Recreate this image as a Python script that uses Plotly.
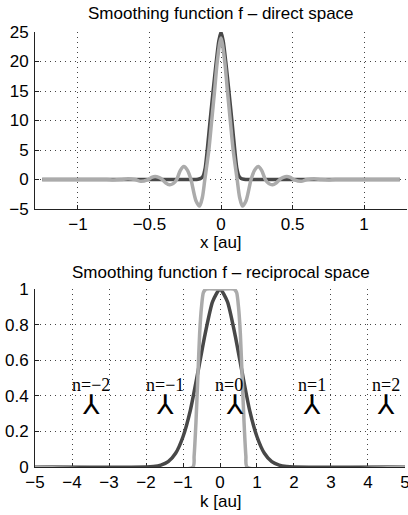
import plotly.graph_objects as go

# direct space, dark curve (smoothing function)
x_dark = [-1.25, -0.3, -0.2, -0.16, -0.14, -0.125, -0.11, -0.096, -0.076, -0.055, -0.033, -0.015, 0,
          0.015, 0.033, 0.055, 0.076, 0.096, 0.11, 0.125, 0.14, 0.16, 0.2, 0.3, 1.25]
y_dark = [0, 0, 0, 0.05, 0.2, 0.6, 2.0, 5, 10, 15, 20, 23.5, 25,
          23.5, 20, 15, 10, 5, 2.0, 0.6, 0.2, 0.05, 0, 0, 0]

# direct space, light curve
x_light = [-1.25, -0.9, -0.8, -0.75, -0.7, -0.65, -0.6, -0.56, -0.51, -0.485, -0.46, -0.435, -0.41,
           -0.385, -0.36, -0.335, -0.31, -0.285, -0.26, -0.235, -0.21, -0.175, -0.15, -0.13, -0.113,
           -0.085, -0.065, -0.045, -0.026, 0,
           0.026, 0.045, 0.065, 0.085, 0.113, 0.13, 0.15, 0.175, 0.21, 0.235, 0.26, 0.285, 0.31,
           0.335, 0.36, 0.385, 0.41, 0.435, 0.46, 0.485, 0.51, 0.56, 0.6, 0.65, 0.7, 0.75, 0.8,
           0.9, 1.25]
y_light = [0, 0, 0, -0.07, 0, 0.15, 0, -0.3, 0, 0.35, 0.5, 0.35, 0,
           -0.6, -0.9, -0.7, 0, 1.5, 2.2, 1.6, 0, -3.6, -4.5, -3.0, 0,
           5, 10, 15, 20, 24,
           20, 15, 10, 5, 0, -3.0, -4.5, -3.6, 0, 1.6, 2.2, 1.5, 0,
           -0.7, -0.9, -0.6, 0, 0.35, 0.5, 0.35, 0, -0.3, 0, 0.15, 0, -0.07, 0,
           0, 0]

# reciprocal space
k_dark = [-5, -2, -1.8, -1.6, -1.4, -1.2, -1.0, -0.8, -0.6, -0.4, -0.2, 0,
          0.2, 0.4, 0.6, 0.8, 1.0, 1.2, 1.4, 1.6, 1.8, 2, 5]
f_dark = [0, 0, 0.003, 0.011, 0.03, 0.077, 0.17, 0.32, 0.53, 0.75, 0.93, 1,
          0.93, 0.75, 0.53, 0.32, 0.17, 0.077, 0.03, 0.011, 0.003, 0, 0]

k_light = [-5, -0.73, -0.7, -0.65, -0.6, -0.55, -0.5, -0.45, -0.38, 0,
           0.38, 0.45, 0.5, 0.55, 0.6, 0.65, 0.7, 0.73, 5]
f_light = [0, 0, 0.06, 0.25, 0.5, 0.75, 0.9, 0.98, 1, 1,
           1, 0.98, 0.9, 0.75, 0.5, 0.25, 0.06, 0, 0]

# image labels (order n = -2 .. 2) and where the marker points
n_labels = ["n=\u22122", "n=\u22121", "n=0", "n=1", "n=2"]
n_mark_k = [-3.5, -1.5, 0.5, 2.5, 4.5]

DARK = "#484848"
LIGHT = "#ababab"
FONT = "Liberation Sans, Arial, sans-serif"

fig = go.Figure()
fig.add_trace(go.Scatter(x=x_dark, y=y_dark, mode="lines", xaxis="x", yaxis="y",
                         line=dict(color=DARK, width=3.5, shape="spline", smoothing=0.6)))
fig.add_trace(go.Scatter(x=x_light, y=y_light, mode="lines", xaxis="x", yaxis="y",
                         line=dict(color=LIGHT, width=3.5, shape="spline", smoothing=0.8)))
fig.add_trace(go.Scatter(x=k_dark, y=f_dark, mode="lines", xaxis="x2", yaxis="y2",
                         line=dict(color=DARK, width=3.5, shape="spline", smoothing=0.6)))
fig.add_trace(go.Scatter(x=k_light, y=f_light, mode="lines", xaxis="x2", yaxis="y2",
                         line=dict(color=LIGHT, width=3.5, shape="spline", smoothing=0.6)))

grid = dict(showgrid=True, gridcolor="#444444", gridwidth=1, griddash="1px,4px",
            zeroline=False, showline=True, linecolor="#222222", linewidth=1,
            ticks="inside", ticklen=4, tickcolor="#222222", layer="below traces",
            automargin=False,
            tickfont=dict(family=FONT, size=17, color="black"))

fig.update_layout(
    width=408, height=515,
    margin=dict(l=35, r=1, t=32, b=48),
    paper_bgcolor="white", plot_bgcolor="white",
    showlegend=False,
    xaxis=dict(grid, domain=[0, 1], anchor="y", range=[-1.3, 1.3],
               tickvals=[-1, -0.5, 0, 0.5, 1], ticktext=["\u22121", "\u22120.5", "0", "0.5", "1"],
               ticklabelstandoff=0),
    yaxis=dict(grid, domain=[0.593, 1], anchor="x", range=[-5, 25],
               tickvals=[-5, 0, 5, 10, 15, 20, 25], ticklabelstandoff=2),
    xaxis2=dict(grid, domain=[0, 0.9946], anchor="y2", range=[-5, 5], dtick=1,
                ticklabelstandoff=0, ticklabeloverflow="allow"),
    yaxis2=dict(grid, domain=[0, 0.409], anchor="x2", range=[0, 1],
                tickvals=[0, 0.2, 0.4, 0.6, 0.8, 1],
                ticktext=["0", "0.2", "0.4", "0.6", "0.8", "1"], ticklabelstandoff=2),
)

ann = []
ann.append(dict(text="Smoothing function f \u2013 direct space", xref="paper", yref="paper",
                x=0.5, y=1, yshift=19, xanchor="center", yanchor="middle", showarrow=False,
                font=dict(family=FONT, size=17, color="black")))
ann.append(dict(text="x [au]", xref="paper", yref="paper", x=0.5, y=0.593, yshift=-33,
                xanchor="center", yanchor="middle", showarrow=False,
                font=dict(family=FONT, size=17, color="black")))
ann.append(dict(text="Smoothing function f \u2013 reciprocal space", xref="paper", yref="paper",
                x=0.5, y=0.409, yshift=17, xanchor="center", yanchor="middle", showarrow=False,
                font=dict(family=FONT, size=17, color="black")))
ann.append(dict(text="k [au]", xref="paper", yref="paper", x=0.5, y=0, yshift=-34,
                xanchor="center", yanchor="middle", showarrow=False,
                font=dict(family=FONT, size=17, color="black")))

mark = "<span style='font-family:DejaVu Sans;font-size:27px;font-weight:400'>\u2144</span>"
for lab, km in zip(n_labels, n_mark_k):
    # the n=0 label sits to the left of its marker
    right = lab == "n=0"
    ann.append(dict(text=lab + "<br>" + mark, xref="x2", yref="y2", x=km, y=0.4,
                    xshift=7 if right else 0, yshift=-2,
                    xanchor="right" if right else "center", align="right" if right else "center",
                    yanchor="middle", showarrow=False,
                    font=dict(family="Liberation Serif, Times New Roman, serif", size=18, color="black")))
fig.update_layout(annotations=ann)

# page body has a default 8px margin; remove it so the figure fills the window
fig.write_html("out.html", config={"displayModeBar": False},
               post_script="document.body.style.margin='0px';")
